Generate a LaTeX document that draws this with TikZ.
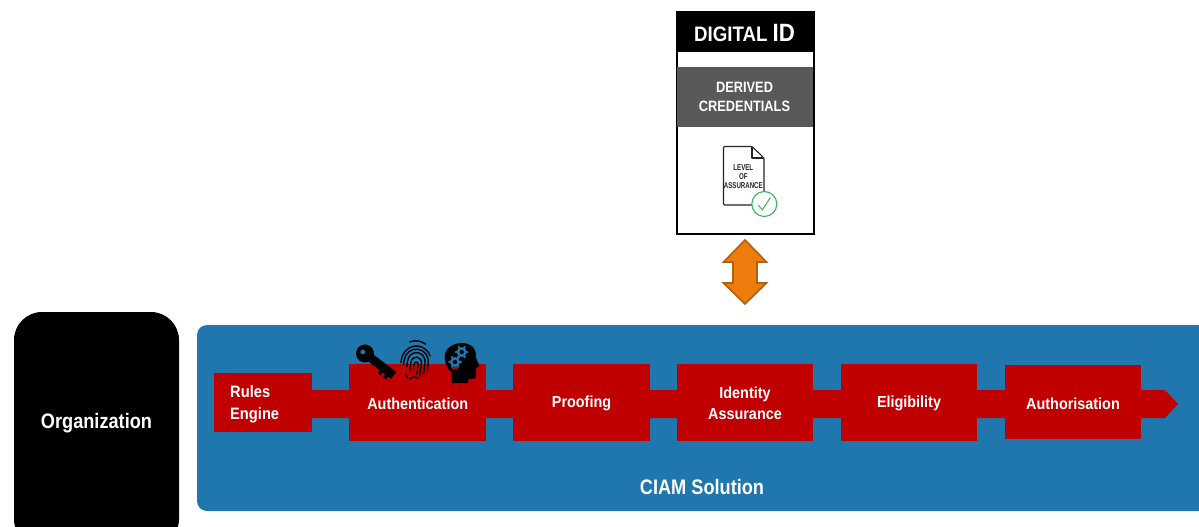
\documentclass[tikz,border=0pt]{standalone}
\usepackage{fontspec}
\usetikzlibrary{calc}
\setmainfont{Liberation Sans}
\definecolor{ciamblue}{HTML}{1F77AE}
\definecolor{stepred}{HTML}{C00000}
\definecolor{idgray}{HTML}{595959}
\definecolor{orangefill}{HTML}{EC7D0C}
\definecolor{orangeedge}{HTML}{B0610F}
\definecolor{checkgreen}{HTML}{3DB55A}
\tikzset{
  stepbox/.style={fill=stepred,draw=none,inner sep=0pt,minimum width=136.5pt,minimum height=77pt,anchor=center},
  steptext/.style={text=white,font=\bfseries\fontsize{16}{21}\selectfont,align=center,inner sep=0pt,xscale=.9},
  whitetext/.style={text=white,font=\bfseries,align=center,inner sep=0pt},
  fingerline/.style={line width=1.35pt,line cap=round},
}
\begin{document}
\begin{tikzpicture}[x=1pt,y=-1pt]
\useasboundingbox (0,0) rectangle (1199,527);
\fill[white] (0,0) rectangle (1199,527);
% organization
\begin{scope}
\clip (0,0) rectangle (1199,527);
\node[fill=black,rounded corners=28pt,minimum width=165pt,minimum height=235pt,inner sep=0pt] (org) at (96.5,429.5) {};
\node[fill=ciamblue,rounded corners=10pt,minimum width=1040pt,minimum height=186pt,inner sep=0pt] (ciam) at (717,418) {};
\end{scope}
\node[whitetext,font=\bfseries\fontsize{21}{24}\selectfont,xscale=.865] (orglabel) at (96.5,423.5) {Organization};
\node[whitetext,font=\bfseries\fontsize{21}{24}\selectfont,xscale=.865] (ciamlabel) at (702,487) {CIAM Solution};
% pipeline bar
\coordinate (barstart) at (263,404);
\coordinate (bartip) at (1178,404);
\fill[stepred] ($(barstart)+(0,-14)$) -- (1165,390) -- (bartip) -- (1165,418) -- ($(barstart)+(0,14)$) -- cycle;
\node[stepbox,minimum width=98.5pt,minimum height=59pt] (rules) at (263,402.5) {};
\node[text=white,font=\bfseries\fontsize{16.5}{22}\selectfont,align=left,inner sep=0pt,anchor=west,xscale=.89] (ruleslabel) at (230,404) {Rules\\Engine};
\node[stepbox] (auth) at (417.7,402.5) {};
\node[stepbox] (proof) at (581.5,402.5) {};
\node[stepbox] (assure) at (745,402.5) {};
\node[stepbox] (elig) at (909,402.5) {};
\node[stepbox,minimum height=74pt] (authz) at (1073,402) {};
\node[steptext] (authlabel) at ($(auth.center)+(0,1)$) {Authentication};
\node[steptext] (prooflabel) at ($(proof.center)+(0,1)$) {Proofing};
\node[steptext] (assurelabel) at ($(assure.center)+(0,1)$) {Identity\\Assurance};
\node[steptext] (eliglabel) at ($(elig.center)+(0,1)$) {Eligibility};
\node[steptext] (authzlabel) at ($(authz.center)+(0,1.3)$) {Authorisation};
% key
\begin{scope}[shift={(365,353.5)},rotate=-37]
\fill[black] (0,0) circle (9);
\fill[black] (5,-4.2) -- (36,-4.2) -- (36,4.5) -- (32.5,4.5) -- (32.5,8) -- (28.5,8) -- (28.5,4.5) -- (25.5,4.5) -- (25.5,8) -- (21.5,8) -- (21.5,4.5) -- (5,4.5) -- cycle;
\fill[ciamblue] (-2.8,0) circle (2.4);
\end{scope}
% fingerprint
\begin{scope}[shift={(416,362)},rotate=-8]
\draw[fingerline] (-1.5,8) -- (-1.5,2) arc (180:360:2) -- (2.5,12);
\draw[fingerline] (-5,10) -- (-5,1) arc (180:360:5.3 and 6) -- (5.6,14);
\draw[fingerline] (-8.5,6) -- (-8.5,0) arc (180:360:8.8 and 9.5) -- (9,11);
\draw[fingerline] (-12,4) -- (-12,0) arc (180:360:12.2 and 13) -- (12.4,8);
\draw[fingerline] (-14.8,3) -- (-14.8,0) arc (180:330:15 and 16);
\draw[fingerline] (-9,-19) arc (-120:-60:16);
\draw[fingerline] (-9,13) -- (-6,17);
\draw[fingerline] (-4,18) arc (-150:-60:6);
\end{scope}
% head with gears
\fill[black] (451.5,383) -- (451.5,372) .. controls (445,367) and (444,358) .. (445,354) .. controls (447,346) and (455,343) .. (462,343) .. controls (472,343) and (477,350) .. (476,358) -- (479.5,366) -- (476,368) -- (476,376) .. controls (476,379) and (472,379) .. (468.5,379) -- (468,383) -- cycle;
\foreach \p in {{461.7,352},{455,362}} {
  \fill[ciamblue] (\p) circle (5);
  \foreach \a in {0,60,...,300} { \fill[ciamblue] (\p) ++(\a:5.6) circle (1.4); }
  \fill[black] (\p) circle (2.2);
}
\fill[stepred] (451,367.2) -- (459,367.2) -- (457.5,369) -- (452.5,369) -- cycle;
% digital id card
\node[draw=black,fill=white,line width=2pt,minimum width=137pt,minimum height=221pt,inner sep=0pt] (card) at (745.5,123.5) {};
\node[fill=black,minimum width=139pt,minimum height=41pt,inner sep=0pt] (idhead) at (745,31.5) {};
\node[text=white,inner sep=0pt,font=\bfseries\fontsize{21}{26}\selectfont,xscale=.89] (idlabel) at (744.5,33) {DIGITAL \fontsize{25}{26}\selectfont ID};
\node[fill=idgray,minimum width=136pt,minimum height=60pt,inner sep=0pt] (derived) at (745,97) {};
\node[whitetext,font=\bfseries\fontsize{15}{19.5}\selectfont,xscale=.855] (derivedlabel) at (744.5,97) {DERIVED\\CREDENTIALS};
% document
\draw[black!85,line width=1.1pt,line join=round,rounded corners=1pt,fill=white] (723.5,146.5) -- (752,146.5) -- (764,158) -- (764,205) -- (723.5,205) -- cycle;
\draw[black!85,line width=1.1pt,line join=round] (752,146.5) -- (752,158) -- (764,158);
\node[text=black!85,font=\bfseries\fontsize{8.5}{9.2}\selectfont,align=center,inner sep=0pt,xscale=.72] (loa) at (743.3,176.5) {LEVEL\\OF\\ASSURANCE};
\node[circle,draw=checkgreen,fill=white,line width=1.1pt,minimum size=25pt,inner sep=0pt] (check) at (764.3,204) {};
\draw[checkgreen,line width=1pt] ($(check)+(-6,1)$) -- ($(check)+(-2,6)$) -- ($(check)+(6,-6.5)$);
% double arrow
\draw[fill=orangefill,draw=orangeedge,line width=1.6pt,line join=miter] (745,240) -- (766.5,262) -- (757,262) -- (757,283) -- (766.5,283) -- (745,304) -- (723.5,283) -- (733,283) -- (733,262) -- (723.5,262) -- cycle;
\end{tikzpicture}
\end{document}
